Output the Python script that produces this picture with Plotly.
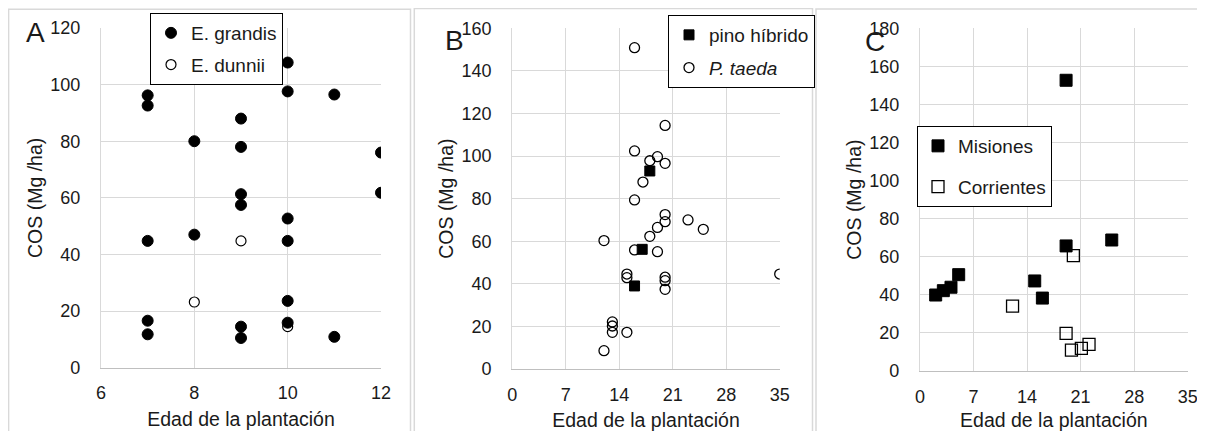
import plotly.graph_objects as go

# The page body has an 8px margin, so the figure is sized to fit the window
OFF = 8
W, H = 1205 - OFF, 439 - 2 * OFF

# ---------------- data ----------------
# Panel A
a_grandis_x = [7, 7, 7, 7, 7, 8, 8, 9, 9, 9, 9, 9, 9, 10, 10, 10, 10, 10, 10, 11, 11, 12, 12]
a_grandis_y = [96.2, 92.6, 44.8, 16.6, 11.8, 80, 47, 88, 78, 61.3, 57.5, 14.5, 10.5,
               107.8, 97.6, 52.7, 44.8, 23.6, 15.9, 96.5, 10.9, 76, 61.8]
a_dunnii_x = [9, 8, 10]
a_dunnii_y = [44.8, 23.2, 14.5]

# Panel B
b_hibrido_x = [18, 17, 16]
b_hibrido_y = [93.0, 56.2, 39.0]
b_taeda_x = [16, 20, 16, 19, 18, 20, 17.1, 16, 20, 20, 23, 25, 19, 18, 12, 16, 19,
             15, 15, 20, 20, 20, 35, 13.1, 13.1, 13.1, 15, 12]
b_taeda_y = [150.9, 114.4, 102.4, 99.7, 97.8, 96.6, 87.8, 79.4, 72.5, 69.2, 70.0, 65.6,
             66.5, 62.3, 60.3, 55.9, 55.1, 44.6, 42.9, 43.1, 41.5, 37.4, 44.6, 22.1,
             20.2, 17.2, 17.2, 8.6]

# Panel C
c_misiones_x = [2.05, 3.05, 4.05, 5.06, 15.0, 16.0, 19.1, 19.1, 25.07]
c_misiones_y = [39.9, 42.2, 44.0, 50.6, 47.3, 38.3, 152.7, 65.7, 68.8]
c_corrientes_x = [12.1, 20.05, 19.1, 19.8, 21.1, 22.1]
c_corrientes_y = [34.1, 60.6, 19.8, 11.0, 11.9, 14.0]

x_title = "Edad de la plantación"
y_title = "COS (Mg /ha)"

# ---------------- helpers (page pixel -> paper fraction) ----------------
def px(x):
    return (x - OFF) / W

def py(y):
    return 1 - (y - OFF) / H

FONT = "Liberation Sans, Arial, sans-serif"
TXT = "#1a1a1a"
GRID = "#d9d9d9"

fig = go.Figure()

# Panel A traces
fig.add_trace(go.Scatter(x=a_dunnii_x, y=a_dunnii_y, mode="markers", name="E. dunnii",
                         marker=dict(symbol="circle", size=10, color="white",
                                     line=dict(color="black", width=1.2)),
                         xaxis="x", yaxis="y", legend="legend", legendgroup="ad",
                         legendrank=2))
fig.add_trace(go.Scatter(x=a_grandis_x, y=a_grandis_y, mode="markers", name="E. grandis",
                         marker=dict(symbol="circle", size=11, color="black",
                                     line=dict(color="black", width=1)),
                         xaxis="x", yaxis="y", legend="legend", legendgroup="ag",
                         legendrank=1))
# Panel B traces
fig.add_trace(go.Scatter(x=b_taeda_x, y=b_taeda_y, mode="markers", name="<i>P. taeda</i>",
                         marker=dict(symbol="circle-open", size=10, color="black",
                                     line=dict(color="black", width=1.3)),
                         xaxis="x2", yaxis="y2", legend="legend2", legendgroup="bt",
                         legendrank=2))
fig.add_trace(go.Scatter(x=b_hibrido_x, y=b_hibrido_y, mode="markers", name="pino híbrido",
                         marker=dict(symbol="square", size=10, color="black",
                                     line=dict(color="black", width=1)),
                         xaxis="x2", yaxis="y2", legend="legend2", legendgroup="bh",
                         legendrank=1))
# Panel C traces
fig.add_trace(go.Scatter(x=c_misiones_x, y=c_misiones_y, mode="markers", name="Misiones",
                         marker=dict(symbol="square", size=12, color="black",
                                     line=dict(color="black", width=1)),
                         xaxis="x3", yaxis="y3", legend="legend3", legendgroup="cm",
                         legendrank=1))
fig.add_trace(go.Scatter(x=c_corrientes_x, y=c_corrientes_y, mode="markers", name="Corrientes",
                         marker=dict(symbol="square-open", size=12, color="black",
                                     line=dict(color="black", width=1.3)),
                         xaxis="x3", yaxis="y3", legend="legend3", legendgroup="cc",
                         legendrank=2))

def xaxis(domain, rng, dtick, anchor):
    return dict(domain=domain, range=rng, dtick=dtick, anchor=anchor,
                showgrid=True, gridcolor=GRID, gridwidth=1.3,
                showline=True, linecolor="#bfbfbf", linewidth=1.3,
                zeroline=False, ticks="", ticklabelstandoff=9,
                tickfont=dict(family=FONT, size=18, color=TXT),
                title=dict(text=x_title, standoff=9,
                           font=dict(family=FONT, size=19.5, color=TXT)),
                automargin=False, fixedrange=True)

def yaxis(domain, rng, anchor):
    return dict(domain=domain, range=rng, dtick=20, anchor=anchor,
                showgrid=True, gridcolor=GRID, gridwidth=1.3,
                showline=True, linecolor="#d9d9d9", linewidth=1.3,
                zeroline=False, ticks="", ticklabelstandoff=16,
                tickfont=dict(family=FONT, size=18, color=TXT),
                title=dict(text=y_title, standoff=2,
                           font=dict(family=FONT, size=19.5, color=TXT)),
                automargin=False, fixedrange=True)

legend_common = dict(bgcolor="white", bordercolor="black", borderwidth=1,
                     font=dict(family=FONT, size=19, color=TXT),
                     xanchor="left", yanchor="top", traceorder="grouped",
                     itemwidth=30)

fig.update_layout(
    width=W, height=H,
    margin=dict(l=0, r=0, t=0, b=0, pad=0, autoexpand=False),
    paper_bgcolor="white", plot_bgcolor="white",
    font=dict(family=FONT, color=TXT),
    xaxis=xaxis([px(101), px(381)], [6, 12], 2, "y"),
    yaxis=yaxis([py(367.7), py(28)], [0, 120], "x"),
    xaxis2=xaxis([px(512.3), px(779.7)], [0, 35], 7, "y2"),
    yaxis2=yaxis([py(369), py(28.3)], [0, 160], "x2"),
    xaxis3=xaxis([px(920), px(1187.7)], [0, 35], 7, "y3"),
    yaxis3=yaxis([py(371), py(28.3)], [0, 180], "x3"),
    legend=dict(x=px(150), y=py(13), tracegroupgap=4, **legend_common),
    legend2=dict(x=px(668), y=py(15), tracegroupgap=5, **legend_common),
    legend3=dict(x=px(917), y=py(126), tracegroupgap=13, **legend_common),
    showlegend=True,
)

# panel frames
frames = [(8.6, 9.3, 410.5), (414.3, 8.6, 812.5), (816, 9.0, 1215)]
for x0, y0, x1 in frames:
    fig.add_shape(type="rect", xref="paper", yref="paper",
                  x0=px(x0), x1=px(x1), y0=py(y0), y1=-0.1,
                  line=dict(color="#d9d9d9", width=1.5), layer="below")

# panel letters
for letter, xc, yc in [("A", 35, 33), ("B", 454, 40), ("C", 875, 41)]:
    fig.add_annotation(text=letter, xref="paper", yref="paper",
                       x=px(xc), y=py(yc), xanchor="center", yanchor="middle",
                       showarrow=False, font=dict(family=FONT, size=28, color=TXT))

fig.write_html("out.html")
